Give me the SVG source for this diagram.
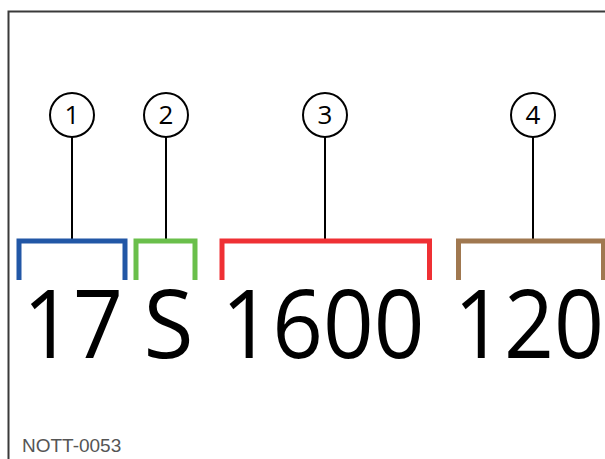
<svg xmlns="http://www.w3.org/2000/svg" width="605" height="459" viewBox="0 0 605 459">
<style>
.frame{fill:none;stroke:#3a3a3a;stroke-width:2}
.callout circle{fill:#fff;stroke:#000;stroke-width:2}
.callout text{font-family:"Open Sans","DejaVu Sans",sans-serif;font-size:26px;text-anchor:middle;fill:#000}
.lead{stroke:#000;stroke-width:2;fill:none}
.br{fill:none;stroke-width:5;stroke-linejoin:miter;stroke-linecap:butt}
.big{font-family:"Open Sans","DejaVu Sans",sans-serif;font-size:95px;fill:#000;text-anchor:middle}
.code{font-family:"Liberation Sans",Arial,sans-serif;font-size:19px;fill:#555}
</style>
<rect width="605" height="459" fill="#fff"/>
<path class="frame" d="M8.5,470 V11.5 H620"/>
<g id="connectors">
<line class="lead" x1="72" y1="137" x2="72" y2="239"/>
<line class="lead" x1="166" y1="137" x2="166" y2="239"/>
<line class="lead" x1="325" y1="137" x2="325" y2="239"/>
<line class="lead" x1="533" y1="137" x2="533" y2="239"/>
</g>
<g id="callout1" class="callout"><circle cx="72" cy="115" r="22"/><text x="72" y="124">1</text></g>
<g id="callout2" class="callout"><circle cx="166" cy="115" r="22"/><text x="166" y="124">2</text></g>
<g id="callout3" class="callout"><circle cx="325" cy="115" r="22"/><text x="325" y="124">3</text></g>
<g id="callout4" class="callout"><circle cx="533" cy="115" r="22"/><text x="533" y="124">4</text></g>
<g id="bracket1"><path class="br" stroke="#2257a6" d="M19,280 V241 H125 V280"/></g>
<g id="bracket2"><path class="br" stroke="#6abf4b" d="M136,280 V241 H195 V280"/></g>
<g id="bracket3"><path class="br" stroke="#ef3034" d="M222,280 V241 H429.5 V280"/></g>
<g id="bracket4"><path class="br" stroke="#a07850" d="M458.5,280 V241 H603.5 V280"/></g>
<g id="code">
<text class="big" x="73" y="358" textLength="100" lengthAdjust="spacingAndGlyphs">17</text>
<text class="big" x="168.5" y="358" textLength="50" lengthAdjust="spacingAndGlyphs">S</text>
<text class="big" x="323" y="358" textLength="203" lengthAdjust="spacingAndGlyphs">1600</text>
<text class="big" x="529" y="358" textLength="150" lengthAdjust="spacingAndGlyphs">120</text>
</g>
<text class="code" x="22" y="452">NOTT-0053</text>
</svg>
